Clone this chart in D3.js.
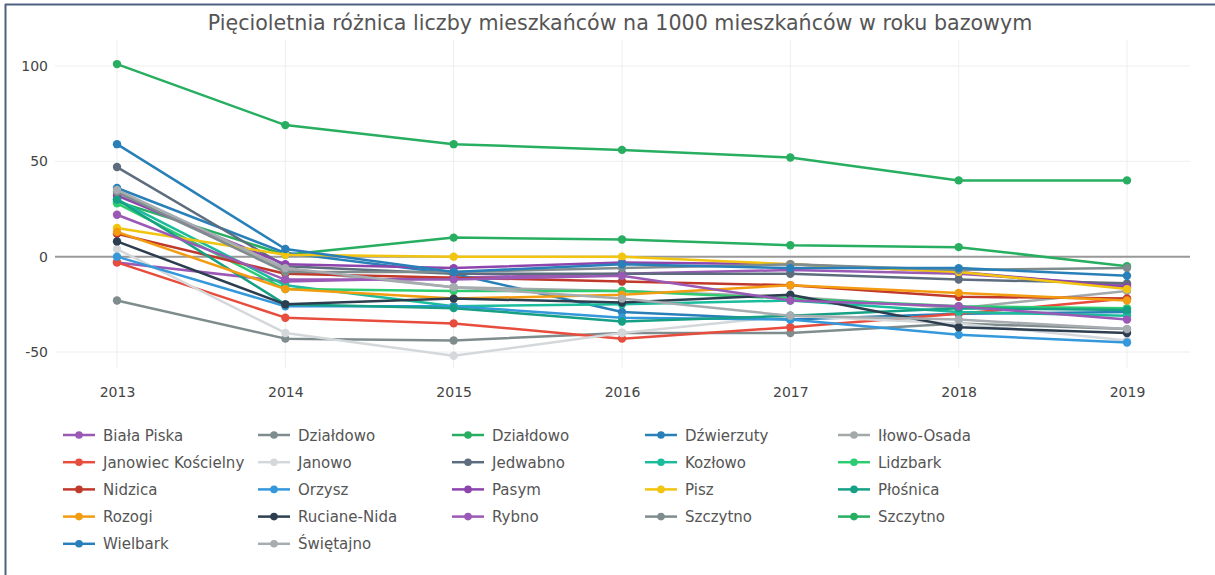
<!DOCTYPE html>
<html><head><meta charset="utf-8">
<script src="https://cdn.jsdelivr.net/npm/d3@7"></script>
<style>
html,body{margin:0;padding:0;background:#fff;}
svg{display:block;font-family:"DejaVu Sans",Verdana,sans-serif;}
</style></head>
<body>
<svg id="chart" width="1215" height="575"></svg>
<script>
const years = [2013, 2014, 2015, 2016, 2017, 2018, 2019];
const yTicks = [-50, 0, 50, 100];
const names = ["Biała Piska","Działdowo","Działdowo","Dźwierzuty","Iłowo-Osada",
  "Janowiec Kościelny","Janowo","Jedwabno","Kozłowo","Lidzbark",
  "Nidzica","Orzysz","Pasym","Pisz","Płośnica",
  "Rozogi","Ruciane-Nida","Rybno","Szczytno","Szczytno",
  "Wielbark","Świętajno"];
const bialaPiska   = [-3, -13, -11, -9, -7, -9, -15];
const dzialdowoA   = [-23, -43, -44, -40, -40, -35, -38];
const dzialdowoB   = [29, 1, 10, 9, 6, 5, -5];
const dzwierzuty   = [36, 2, -9, -29, -33, -30, -29];
const ilowoOsada   = [33, -7, -16, -18, -21, -27, -18];
const janowiec     = [-3, -32, -35, -43, -37, -30, -22];
const janowo       = [4, -40, -52, -40, -31, -35, -44];
const jedwabno     = [47, -5, -9, -9, -9, -12, -14];
const kozlowo      = [30, -15, -26, -25, -23, -29, -31];
const lidzbark     = [28, -17, -18, -18, -22, -26, -27];
const nidzica      = [12, -9, -11, -13, -15, -21, -22];
const orzysz       = [0, -26, -26, -32, -33, -41, -45];
const pasym        = [32, -4, -6, -3, -4, -8, -16];
const pisz         = [15, 1, 0, 0, -4, -8, -17];
const plosnica     = [30, -25, -27, -34, -31, -27, -28];
const rozogi       = [13, -17, -22, -20, -15, -19, -23];
const rucianeNida  = [8, -25, -22, -24, -20, -37, -40];
const rybno        = [22, -12, -12, -10, -23, -26, -33];
const szczytnoA    = [34, -8, -8, -6, -4, -7, -6];
const szczytnoB    = [101, 69, 59, 56, 52, 40, 40];
const wielbark     = [59, 4, -8, -4, -6, -6, -10];
const swietajno    = [35, -6, -16, -22, -31, -33, -38];

const seriesValues = [bialaPiska, dzialdowoA, dzialdowoB, dzwierzuty, ilowoOsada,
  janowiec, janowo, jedwabno, kozlowo, lidzbark,
  nidzica, orzysz, pasym, pisz, plosnica,
  rozogi, rucianeNida, rybno, szczytnoA, szczytnoB,
  wielbark, swietajno];

const palette = ["#9b59b6","#7f8c8d","#27ae60","#2980b9","#a3a8ab",
  "#e74c3c","#d5d8db","#5d6d7e","#1abc9c","#2ecc71",
  "#c0392b","#3498db","#8e44ad","#f1c40f","#16a085",
  "#f39c12","#2c3e50","#9b59b6","#7f8c8d","#27ae60",
  "#2980b9","#a6acaf"];

const svg = d3.select("#chart");
// frame border (top & left)
svg.append("line").attr("x1",5).attr("x2",1215).attr("y1",4.5).attr("y2",4.5).attr("stroke","#4f6180").attr("stroke-width",2);
svg.append("line").attr("x1",5.5).attr("x2",5.5).attr("y1",4).attr("y2",575).attr("stroke","#4f6180").attr("stroke-width",2);

const plotLeft = 55, plotRight = 1190, plotTop = 40, plotBottom = 368;
const x = d3.scalePoint().domain(years).range([117, 1127]);
const y = d3.scaleLinear().domain([-50, 100]).range([352, 66]);

// gridlines
const g = svg.append("g");
g.selectAll(".hg").data(yTicks.filter(d=>d!==0)).enter().append("line")
  .attr("x1",plotLeft).attr("x2",plotRight)
  .attr("y1",d=>y(d)).attr("y2",d=>y(d))
  .attr("stroke","#eeeeee").attr("stroke-width",1);
g.selectAll(".vg").data(years).enter().append("line")
  .attr("x1",d=>x(d)).attr("x2",d=>x(d))
  .attr("y1",plotTop).attr("y2",plotBottom)
  .attr("stroke","#eeeeee").attr("stroke-width",1);
// zero line
g.append("line").attr("x1",plotLeft).attr("x2",plotRight)
  .attr("y1",y(0)).attr("y2",y(0)).attr("stroke","#999").attr("stroke-width",2);

// axes
const yAxis = d3.axisLeft(y).tickValues(yTicks).tickSize(0).tickPadding(0).tickFormat(d=>String(d));
const ya = svg.append("g").attr("transform","translate(48,0)").call(yAxis);
ya.select(".domain").remove();
ya.selectAll("text").attr("fill","#444").style("font-size","14px").style("font-family","DejaVu Sans, Verdana, sans-serif");

const xAxis = d3.axisBottom(x).tickSize(0).tickPadding(0).tickFormat(d=>String(d));
const xa = svg.append("g").attr("transform","translate(0,387)").call(xAxis);
xa.select(".domain").remove();
xa.selectAll("text").attr("fill","#444").style("font-size","14px").style("font-family","DejaVu Sans, Verdana, sans-serif");

// lines
const line = d3.line().x((d,i)=>x(years[i])).y(d=>y(d));
const sg = svg.append("g");
seriesValues.forEach((vals,si)=>{
  const s = sg.append("g");
  s.append("path").attr("d",line(vals)).attr("fill","none")
    .attr("stroke",palette[si]).attr("stroke-width",2.5).attr("stroke-linejoin","round");
  s.selectAll("circle").data(vals).enter().append("circle")
    .attr("cx",(d,i)=>x(years[i])).attr("cy",d=>y(d)).attr("r",4.2)
    .attr("fill",palette[si]);
});

// title
const title = svg.append("text").attr("x",620).attr("y",30).attr("text-anchor","middle")
  .attr("fill","#555").style("font-size","20px")
  .text("Pięcioletnia różnica liczby mieszkańców na 1000 mieszkańców w roku bazowym");
const tw = title.node().getComputedTextLength();
title.style("font-size", (20*825/tw).toFixed(2)+"px");

// legend
const colX = [63, 258, 452, 645, 838];
const rowY0 = 435, rowStep = 27.2;
const leg = svg.append("g");
names.forEach((n,i)=>{
  const cx = colX[i%5], cy = rowY0 + Math.floor(i/5)*rowStep;
  const it = leg.append("g").attr("transform",`translate(${cx},${cy})`);
  it.append("line").attr("x1",0).attr("x2",32).attr("y1",0).attr("y2",0)
    .attr("stroke",palette[i]).attr("stroke-width",2.5);
  it.append("circle").attr("cx",16).attr("cy",0).attr("r",3.8).attr("fill",palette[i]);
  it.append("text").attr("x",40).attr("y",5.5).attr("fill","#555")
    .style("font-size","15px").text(n);
});
</script>
</body></html>
